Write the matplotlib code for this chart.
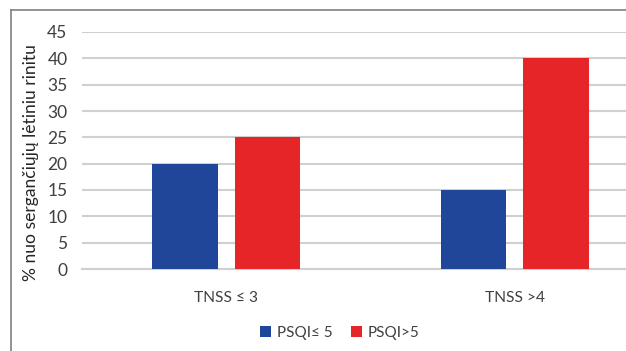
import matplotlib
matplotlib.use("Agg")
import matplotlib.pyplot as plt
from matplotlib.lines import Line2D
import numpy as np

categories = ["TNSS \u2264 3", "TNSS >4"]
series_names = ["PSQI\u2264 5", "PSQI>5"]
psqi_low = [20, 15]
psqi_high = [25, 40]
y_ticks = [0, 5, 10, 15, 20, 25, 30, 35, 40, 45]
y_label = "% nuo sergan\u010di\u0173j\u0173 l\u0117tiniu rinitu"

colors = ["#1F4699", "#E52528"]
text_color = "#404040"
grid_color = "#D0D0D0"

plt.rcParams["font.family"] = ["Lato", "DejaVu Sans"]

W, H = 626, 351
fig = plt.figure(figsize=(W / 100, H / 100), dpi=100)

# plot area in pixel coordinates (extends past the right edge of the figure)
left_px, right_px = 82, 659
top_px, bottom_px = 32, 269
ax = fig.add_axes([left_px / W, 1 - bottom_px / H,
                   (right_px - left_px) / W, (bottom_px - top_px) / H])

x = np.arange(len(categories))
width = 0.226
offset = 0.143
ax.bar(x - offset, psqi_low, width, color=colors[0], label=series_names[0], zorder=3)
ax.bar(x + offset, psqi_high, width, color=colors[1], label=series_names[1], zorder=3)

ax.set_xlim(-0.5, len(categories) - 0.5)
ax.set_ylim(0, 45)
ax.set_yticks(y_ticks)
ax.set_yticklabels([str(t) for t in y_ticks], fontsize=12.5, color=text_color)
ax.set_xticks(x)
ax.set_xticklabels(categories, fontsize=11.2, color=text_color)
ax.tick_params(axis="both", length=0)
ax.tick_params(axis="y", pad=10.5)
ax.tick_params(axis="x", pad=16)

ax.grid(axis="y", color=grid_color, linewidth=1.5, zorder=0)
for s in ["top", "right", "left"]:
    ax.spines[s].set_visible(False)
ax.spines["bottom"].set_color(grid_color)
ax.spines["bottom"].set_linewidth(1.5)

fig.text(31 / W, 1 - 163 / H, y_label, rotation=90, ha="center", va="center",
         fontsize=12.6, color="#262626")

leg = fig.legend(loc="center", bbox_to_anchor=(340 / W, 1 - 333 / H), ncol=2,
                 frameon=False, fontsize=11, handlelength=0.7, handleheight=0.7,
                 handletextpad=0.4, columnspacing=1.2)
for t in leg.get_texts():
    t.set_color(text_color)

# outer chart border (left and top edges)
fig.add_artist(Line2D([11 / W, 11 / W], [0, 1 - 10 / H], transform=fig.transFigure,
                      color="#808080", linewidth=1.2))
fig.add_artist(Line2D([11 / W, 1], [1 - 10 / H, 1 - 10 / H], transform=fig.transFigure,
                      color="#808080", linewidth=1.2))

fig.savefig("out.png", dpi=100)
